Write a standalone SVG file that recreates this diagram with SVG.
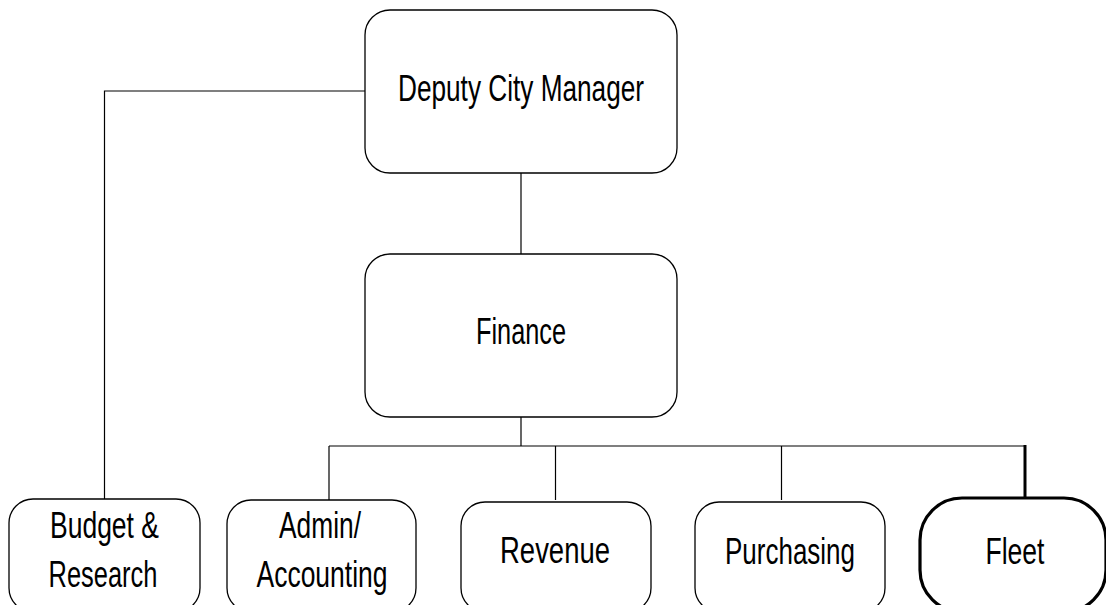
<svg xmlns="http://www.w3.org/2000/svg" width="1106" height="605" viewBox="0 0 1106 605">
  <style>
    .box { fill: #fff; stroke: #000; stroke-width: 1.3; }
    .box-bold { fill: #fff; stroke: #000; stroke-width: 3.2; }
    .link { fill: none; stroke: #000; stroke-width: 1.2; }
    .link-bold { fill: none; stroke: #000; stroke-width: 3; }
    .label { font-family: "Liberation Sans", Arial, sans-serif; font-size: 36px; fill: #000; text-anchor: middle; }
  </style>
  <rect width="1106" height="605" fill="#fff"/>

  <!-- connectors -->
  <g id="connectors">
    <polyline class="link" points="365,91 104.5,91 104.5,500"/>
    <line class="link" x1="521" y1="173" x2="521" y2="254"/>
    <line class="link" x1="521" y1="417" x2="521" y2="446"/>
    <line class="link" x1="329" y1="446" x2="1025" y2="446"/>
    <line class="link" x1="329" y1="446" x2="329" y2="500"/>
    <line class="link" x1="555.5" y1="446" x2="555.5" y2="500"/>
    <line class="link" x1="781.5" y1="446" x2="781.5" y2="500"/>
    <line class="link-bold" x1="1025" y1="445" x2="1025" y2="498"/>
  </g>

  <g id="deputy-city-manager">
    <rect class="box" x="365" y="10" width="312" height="163" rx="25" ry="25"/>
    <text class="label" x="521" y="101" textLength="246" lengthAdjust="spacingAndGlyphs">Deputy City Manager</text>
  </g>

  <g id="finance">
    <rect class="box" x="365" y="254" width="312" height="163" rx="25" ry="25"/>
    <text class="label" x="521" y="344" textLength="90" lengthAdjust="spacingAndGlyphs">Finance</text>
  </g>

  <g id="budget-research">
    <rect class="box" x="9" y="499" width="191" height="113" rx="24" ry="24"/>
    <text class="label" x="104.5" y="538" textLength="109" lengthAdjust="spacingAndGlyphs">Budget &amp;</text>
    <text class="label" x="103" y="587" textLength="109" lengthAdjust="spacingAndGlyphs">Research</text>
  </g>

  <g id="admin-accounting">
    <rect class="box" x="227" y="500" width="189" height="112" rx="24" ry="24"/>
    <text class="label" x="320" y="538" textLength="82" lengthAdjust="spacingAndGlyphs">Admin/</text>
    <text class="label" x="322" y="587" textLength="131" lengthAdjust="spacingAndGlyphs">Accounting</text>
  </g>

  <g id="revenue">
    <rect class="box" x="461" y="502" width="190" height="110" rx="24" ry="24"/>
    <text class="label" x="555" y="563" textLength="110" lengthAdjust="spacingAndGlyphs">Revenue</text>
  </g>

  <g id="purchasing">
    <rect class="box" x="695" y="502" width="190" height="110" rx="24" ry="24"/>
    <text class="label" x="790" y="564" textLength="130" lengthAdjust="spacingAndGlyphs">Purchasing</text>
  </g>

  <g id="fleet">
    <rect class="box-bold" x="920" y="498" width="186" height="114" rx="42" ry="42"/>
    <text class="label" x="1015" y="564" textLength="59" lengthAdjust="spacingAndGlyphs">Fleet</text>
  </g>
</svg>
